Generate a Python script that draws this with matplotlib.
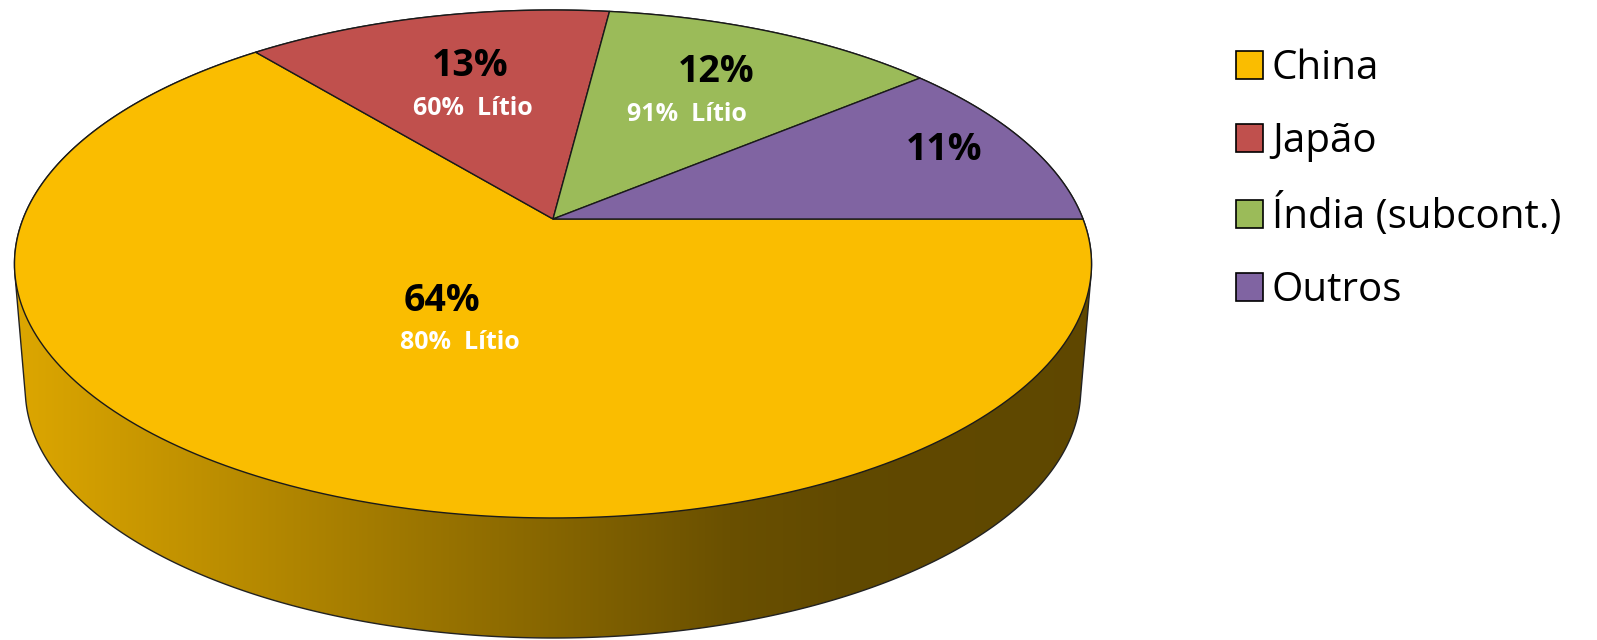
import numpy as np
import matplotlib.pyplot as plt
from matplotlib.patches import Polygon, Patch

plt.rcParams['font.family'] = ['Open Sans', 'DejaVu Sans']

# data
countries = ['China', 'Japão', 'Índia (subcont.)', 'Outros']
shares = [64, 13, 12, 11]
lithium = ['80%  Lítio', '60%  Lítio', '91%  Lítio', None]
colors = ['#FABD00', '#C0504D', '#9BBB59', '#8064A2']

# fake 3d pie geometry (pixel units)
CX, CY = 553, 219
RX, RY, K = 530, 246, 0.1772
DROP, SHRINK = 126, 0.98

# label placement: radius, angle nudge, and offset of the Lítio line
label_r = [0.37, 0.72, 0.75, 0.83]
label_da = [-7, -2, 1.5, 1]
lit_dx = [18, 3, -29, 0]
lit_dy = 42


def top(r, deg):
    t = np.radians(deg)
    x = r * np.cos(t)
    y = r * np.sin(t)
    d = 1 + K * y
    return CX + RX * x / d, CY - RY * y / d


def bottom(r, deg):
    X, Y = top(r, deg)
    return CX + SHRINK * (X - CX), CY + SHRINK * (Y - CY) + DROP


def hull(pts):
    pts = sorted(set(map(tuple, pts)))
    def cross(o, a, b):
        return (a[0] - o[0]) * (b[1] - o[1]) - (a[1] - o[1]) * (b[0] - o[0])
    lower, upper = [], []
    for p in pts:
        while len(lower) >= 2 and cross(lower[-2], lower[-1], p) <= 0:
            lower.pop()
        lower.append(p)
    for p in reversed(pts):
        while len(upper) >= 2 and cross(upper[-2], upper[-1], p) <= 0:
            upper.pop()
        upper.append(p)
    return np.array(lower[:-1] + upper[:-1])


fig = plt.figure(figsize=(15.97, 6.4), dpi=100)
ax = fig.add_axes([0, 0, 1, 1])

# side wall: convex outline of top + bottom rims, filled with a gradient
th = np.linspace(0, 360, 721)
tx, ty = top(1, th)
bx, by = bottom(1, th)
outline = hull(np.round(np.column_stack([np.r_[tx, bx], np.r_[ty, by]]), 2))
side = Polygon(outline, closed=True, facecolor='none', edgecolor='#222222', lw=1.0, zorder=2)
ax.add_patch(side)

gx = np.linspace(0, 1100, 800)
R = np.interp(gx, [20, 430, 730, 850, 1100], [220, 154, 106, 97, 95])
grad = np.stack([R, R * 0.755, np.zeros_like(R)], axis=-1)[None, :, :] / 255
im = ax.imshow(grad, extent=[0, 1100, 650, 0], aspect='auto', zorder=1)
im.set_clip_path(side)

# top face slices, clockwise from 3 o'clock
start = 0.0
mids = []
for share, col in zip(shares, colors):
    span = share / sum(shares) * 360
    a = np.linspace(start - span, start, 200)
    px, py = top(1, a)
    pts = np.column_stack([np.r_[CX, px], np.r_[CY, py]])
    ax.add_patch(Polygon(pts, closed=True, facecolor=col, edgecolor='#1a1a1a', lw=1.0, zorder=3))
    mids.append(start - span / 2)
    start -= span

# labels
for i, (share, lit) in enumerate(zip(shares, lithium)):
    lx, ly = top(label_r[i], mids[i] + label_da[i])
    ax.text(lx, ly, f'{share}%', fontsize=27, fontweight='bold', color='black',
            ha='center', va='center', zorder=4)
    if lit:
        ax.text(lx + lit_dx[i], ly + lit_dy, lit, fontsize=18, fontweight='bold',
                color='white', ha='center', va='center', zorder=4)

handles = [Patch(facecolor=c, edgecolor='black', lw=1.2) for c in colors]
fig.legend(handles, countries, loc='upper left', bbox_to_anchor=(0.7636, 0.949),
           frameon=False, fontsize=29, handlelength=0.68, handleheight=0.68,
           handletextpad=0.22, labelspacing=0.8, borderaxespad=0)

ax.set_xlim(0, 1597)
ax.set_ylim(640, 0)
ax.axis('off')
fig.savefig('out.png', dpi=100)
